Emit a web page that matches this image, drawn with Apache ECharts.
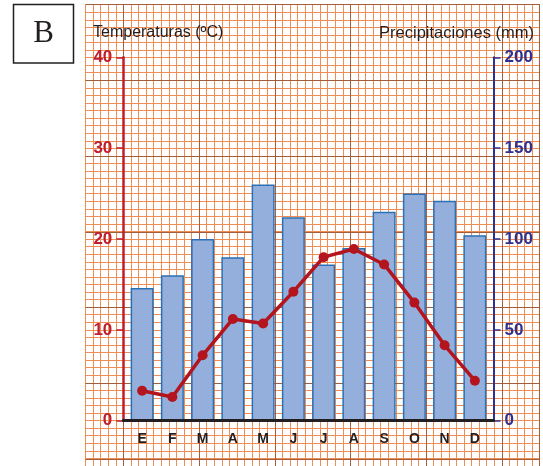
<!DOCTYPE html>
<html>
<head>
<meta charset="utf-8">
<script src="https://cdn.jsdelivr.net/npm/echarts@6/dist/echarts.min.js"></script>
<style>
html,body{margin:0;padding:0;background:#fff;overflow:hidden;}
#chart{width:543px;height:466px;}
</style>
</head>
<body>
<div id="chart"></div>
<script>
// ---- data ----
const months = ['E','F','M','A','M','J','J','A','S','O','N','D'];
const precipitation = [73, 80, 100, 90, 130, 112, 86, 95, 115, 125, 121, 102]; // mm
const temperature = [3.3, 2.6, 7.2, 11.2, 10.7, 14.2, 18.0, 18.9, 17.2, 13.0, 8.3, 4.4]; // ºC
const tempAxis = {min: 0, max: 40, interval: 10};
const precAxis = {min: 0, max: 200, interval: 50};
const leftTitle = 'Temperaturas (ºC)';
const rightTitle = 'Precipitaciones (mm)';
const panelLetter = 'B';

// ---- styles ----
const FONT = 'Liberation Sans';
const RED = '#be1e2d';
const BLUE = '#2e3192';
const ORANGE = '#ef8d55';
const BROWN = '#a25e3a';
const CELL = 7.57;

function paperAxis(max, lineColor, z, showSplit) {
  return {
    type: 'value', min: 0, max: max, interval: showSplit === 'minor' ? 1 : 10,
    axisLine: {show: false}, axisTick: {show: false}, axisLabel: {show: false}, z: z,
    splitLine: {show: showSplit !== false, lineStyle: {color: lineColor, width: 1}}
  };
}

const chart = echarts.init(document.getElementById('chart'), null, {renderer: 'canvas'});
const option = {
  backgroundColor: '#fff',
  animation: false,
  grid: [
    {left: 127, right: 53, top: 57.3, bottom: 45.3},                                  // 0 data
    {left: 85.5, top: 4.65, width: CELL * 60, height: CELL * 61},                     // 1 paper small cells
    {left: 85.5 + CELL * 5, top: 4.65, width: CELL * 55, height: CELL * 61},          // 2 paper dark verticals
    {left: 85.5, top: 4.65, width: CELL * 60, height: CELL * 60},                     // 3 paper dark horizontals
    {left: 123.3, right: 49.5, top: 57.3, bottom: 45.3}                               // 4 baseline
  ],
  xAxis: [
    {
      type: 'category', gridIndex: 0, data: months, boundaryGap: true, z: 5,
      axisLine: {show: false}, axisTick: {show: false},
      axisLabel: {color: '#231f20', fontFamily: FONT, fontWeight: 'bold', fontSize: 14, margin: 11}
    },
    Object.assign(paperAxis(60, ORANGE, 0, 'minor'), {gridIndex: 1}),
    Object.assign(paperAxis(55, BROWN, 1, true), {gridIndex: 2}),
    Object.assign(paperAxis(60, BROWN, 1, false), {gridIndex: 3}),
    {
      type: 'value', gridIndex: 4, min: 0, max: 1, z: 6,
      axisLine: {show: true, lineStyle: {color: '#231f20', width: 3}},
      axisTick: {show: false}, axisLabel: {show: false}, splitLine: {show: false}
    }
  ],
  yAxis: [
    {
      type: 'value', gridIndex: 0, position: 'left', offset: 3.7, z: 5,
      min: tempAxis.min, max: tempAxis.max, interval: tempAxis.interval,
      axisLine: {show: true, lineStyle: {color: RED, width: 2.5}},
      axisTick: {show: true, length: 7, lineStyle: {color: RED, width: 1.5}},
      axisLabel: {color: RED, fontFamily: FONT, fontWeight: 'bold', fontSize: 17, margin: 11},
      splitLine: {show: false}
    },
    {
      type: 'value', gridIndex: 0, position: 'right', offset: 3.5, z: 5,
      min: precAxis.min, max: precAxis.max, interval: precAxis.interval,
      axisLine: {show: true, lineStyle: {color: BLUE, width: 2}},
      axisTick: {show: true, length: 7, lineStyle: {color: BLUE, width: 1.5}},
      axisLabel: {color: BLUE, fontFamily: FONT, fontWeight: 'bold', fontSize: 17, margin: 11},
      splitLine: {show: false}
    },
    Object.assign(paperAxis(61, ORANGE, 0, 'minor'), {gridIndex: 1}),
    Object.assign(paperAxis(61, BROWN, 1, false), {gridIndex: 2}),
    Object.assign(paperAxis(60, BROWN, 1, true), {gridIndex: 3}),
    {type: 'value', gridIndex: 4, min: 0, max: 1, show: false}
  ],
  series: [
    {
      type: 'bar', xAxisIndex: 0, yAxisIndex: 1, data: precipitation,
      barWidth: 23, z: 3,
      itemStyle: {color: '#94afdb', borderColor: '#2b70b6', borderWidth: 1.5}
    },
    {
      type: 'line', xAxisIndex: 0, yAxisIndex: 0, data: temperature, z: 4,
      symbol: 'circle', symbolSize: 10,
      lineStyle: {color: '#b3141e', width: 3.5},
      itemStyle: {color: '#b3141e'}
    }
  ],
  graphic: [
    {
      type: 'rect', shape: {x: 13.5, y: 4.5, width: 60, height: 58.5}, z: 10,
      style: {fill: '#fff', stroke: '#231f20', lineWidth: 1.5}
    },
    {
      type: 'text', x: 43.5, y: 34, z: 11,
      style: {text: panelLetter, font: '31px "Liberation Serif"', fill: '#231f20', align: 'center', verticalAlign: 'middle'}
    },
    {
      type: 'text', x: 93, y: 33, z: 11,
      style: {text: leftTitle, font: '16px "Liberation Sans"', fill: '#231f20', align: 'left', verticalAlign: 'middle'}
    },
    {
      type: 'text', x: 534, y: 33, z: 11,
      style: {text: rightTitle, font: '16.5px "Liberation Sans"', fill: '#231f20', align: 'right', verticalAlign: 'middle'}
    }
  ]
};
chart.setOption(option);
</script>
</body>
</html>
